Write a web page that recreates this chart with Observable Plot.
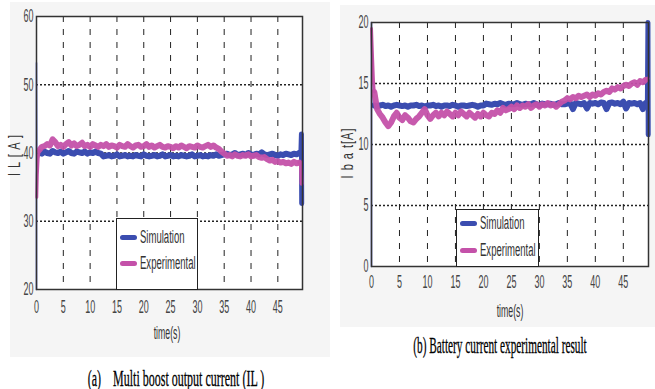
<!DOCTYPE html>
<html>
<head>
<meta charset="utf-8">
<script src="https://cdn.jsdelivr.net/npm/d3@7"></script>
<script src="https://cdn.jsdelivr.net/npm/@observablehq/plot@0.6"></script>
<style>
  html, body { margin: 0; padding: 0; background: #fff; }
  #wrap { position: relative; width: 655px; height: 389px; overflow: hidden; }
  .abs { position: absolute; }
  .narrow { font-family: "Liberation Sans", Arial, sans-serif; color: #222; }
  .legend { position: absolute; background: #fff; border: 1.5px solid #222; box-sizing: border-box; }
  .li { position: absolute; display: flex; align-items: center; white-space: nowrap; }
  .li .tx { display: inline-block; font-size: 18px; transform: scaleX(0.53); transform-origin: left center; color: #333; }
  .sw { display: inline-block; width: 17px; height: 5px; border-radius: 3px; margin-right: 3px; }
  .cap { position: absolute; font-family: "Liberation Serif", "DejaVu Serif", serif; font-size: 24px; color: #000; white-space: nowrap; -webkit-text-stroke: 0.3px #000; }
  .xl { position: absolute; font-size: 19px; transform: translate(-50%, -50%) scaleX(0.46); white-space: nowrap; color: #333; }
  .yl { position: absolute; font-size: 17px; transform: translate(-50%, -50%) rotate(-90deg) scaleX(0.65); white-space: nowrap; letter-spacing: 1.5px; color: #333; }
</style>
</head>
<body>
<div id="wrap">
  <div id="pa" class="abs" style="left:10px;top:2px"></div>
  <div id="pb" class="abs" style="left:340px;top:5px"></div>

  <div class="legend narrow" style="left:116px;top:218px;width:82px;height:72px">
    <div class="li" style="left:3px;top:8px"><span class="sw" style="background:#3b4db0"></span><span class="tx">Simulation</span></div>
    <div class="li" style="left:3px;top:34px"><span class="sw" style="background:#c451a9"></span><span class="tx">Experimental</span></div>
  </div>
  <div class="legend narrow" style="left:456px;top:209px;width:83px;height:58px">
    <div class="li" style="left:3px;top:3px"><span class="sw" style="background:#3b4db0"></span><span class="tx">Simulation</span></div>
    <div class="li" style="left:3px;top:30px"><span class="sw" style="background:#c451a9"></span><span class="tx">Experimental</span></div>
  </div>

  <div class="xl narrow" style="left:167px;top:333px">time(s)</div>
  <div class="xl narrow" style="left:510px;top:311px">time(s)</div>
  <div class="yl narrow" style="left:15px;top:155px">I L [ A ]</div>
  <div class="yl narrow" style="left:348px;top:153px">I b a t[A]</div>

  <div class="cap" style="left:176px;top:378px;transform:translate(-50%,-50%) scaleX(0.5)">(a)&nbsp;&nbsp;&nbsp; Multi boost output current (IL )</div>
  <div class="cap" style="left:500px;top:345px;transform:translate(-50%,-50%) scaleX(0.47)">(b) Battery current experimental result</div>
</div>
<script>
// ---- tick labels / grid ----
const xTicks = [0, 5, 10, 15, 20, 25, 30, 35, 40, 45];
const xGrid = [5, 10, 15, 20, 25, 30, 35, 40, 45];
const yTicksA = [20, 30, 40, 50, 60];
const yGridA = [30, 40, 50];
const yTicksB = [0, 5, 10, 15, 20];
const yGridB = [5, 10, 15];

// ---- panel (a): values at t = 0.5, 1.0, ... 49.0 s ----
const simA = [
  40.1, 39.9, 40.2, 40.0, 39.9, 40.3, 40.1, 40.0, 40.2, 39.9,
  40.1, 40.3, 40.0, 39.9, 40.2, 40.1, 40.0, 40.2, 39.9, 40.1,
  40.0, 40.2, 40.0, 39.9,
  39.5, 39.6, 39.7, 39.5, 39.6, 39.8, 39.5, 39.6, 39.7, 39.5,
  39.6, 39.5, 39.7, 39.6, 39.5, 39.8, 39.6, 39.5, 39.6, 39.7,
  39.5, 39.6, 39.8, 39.5, 39.6, 39.7, 39.5, 39.6, 39.5, 39.7,
  39.6, 39.5, 39.6, 39.8, 39.5, 39.6, 39.7, 39.5, 39.6, 39.5,
  39.7, 39.6, 39.8, 39.6, 39.7, 39.8,
  39.9, 39.7, 39.8, 40.0, 39.7, 39.8, 39.9, 39.7, 40.0, 39.8,
  39.7, 39.9, 39.8, 40.1, 39.8, 39.7, 39.8, 39.9, 39.7, 39.6,
  39.8, 39.7, 39.9, 39.8, 39.7, 39.9, 39.8, 40.0
];
const expA = [
  40.4, 40.9, 41.0, 41.3, 41.1, 42.0, 41.6, 41.0, 41.2, 40.9,
  41.3, 41.6, 41.1, 41.4, 41.0, 41.2, 41.5, 41.0, 41.2, 40.9,
  41.3, 41.1, 40.9, 41.2, 41.0, 41.3, 40.9, 41.1, 41.0, 40.8,
  41.2, 41.0, 40.9, 41.3, 41.0, 40.8, 41.1, 41.2, 40.9, 41.0,
  41.3, 40.9, 41.1, 40.8, 41.0, 41.2, 40.9, 40.8, 41.0, 40.9,
  40.7, 41.0, 40.8, 41.1, 40.9, 40.7, 41.0, 40.9, 40.8, 41.1,
  40.9, 40.8, 41.0, 41.2, 40.9, 41.1, 40.8, 40.6, 40.2, 39.9,
  39.6, 39.7, 39.5, 39.8, 39.6, 39.5, 39.7, 39.6, 39.8, 39.5,
  39.6, 39.7, 39.4, 39.3, 39.4, 39.1, 38.9, 39.0, 38.7, 38.8,
  38.6, 38.7, 38.5, 38.6, 38.4, 38.7, 38.5, 38.6
];
// start-up transient and end spike (time, value)
const simStartA_t = [0, 0, 0.05];
const simStartA_v = [20, 53.2, 40.0];
const expStartA_t = [0.05, 0.15, 0.3, 0.5];
const expStartA_v = [33.5, 36.8, 39.2, 40.4];
const simEndA_t = [49.0, 49.3, 49.4, 49.45];
const simEndA_v = [40.0, 40.0, 42.8, 32.6];
const expEndA_t = [49.0, 49.3, 49.42];
const expEndA_v = [38.6, 38.5, 35.5];

// ---- panel (b): values at t = 0.5, 1.0, ... 49.0 s ----
const simB = [
  13.2, 13.1, 13.2, 13.25, 13.15, 13.2, 13.1, 13.2, 13.25, 13.2,
  13.15, 13.2, 13.1, 13.2, 13.2, 13.25, 13.15, 13.2, 13.1, 13.2,
  13.2, 13.25, 13.15, 13.2, 13.1, 13.2, 13.2, 13.15, 13.25, 13.2,
  13.1, 13.2, 13.2, 13.15, 13.2, 13.25, 13.2, 13.1, 13.2, 13.2,
  13.35, 13.3, 13.25, 13.35, 13.3, 13.4, 13.3, 13.25, 13.35, 13.3,
  13.3, 13.4, 13.3, 13.25, 13.35, 13.3, 13.3, 13.4, 13.3, 13.2,
  13.35, 13.3, 13.3, 13.35, 13.25, 13.3, 13.4, 13.3, 13.3, 13.35,
  13.4, 12.9, 13.4, 13.35, 13.3, 13.4, 12.95, 13.4, 13.35, 13.4,
  13.3, 13.45, 13.4, 12.9, 13.4, 13.45, 13.35, 13.4, 13.3, 13.5,
  12.95, 13.4, 13.35, 13.4, 13.3, 13.4, 12.9, 13.4
];
const expB = [
  14.3, 12.9, 12.5, 12.2, 11.8, 11.5, 11.8, 12.3, 12.6, 12.2,
  12.0, 12.4, 12.2, 11.9, 11.8, 12.1, 12.3, 12.6, 12.9, 12.4,
  12.1, 12.4, 12.6, 12.3, 12.6, 12.4, 12.7, 12.5, 12.3, 12.6,
  12.4, 12.7, 12.5, 12.3, 12.6, 12.4, 12.2, 12.5, 12.3, 12.6,
  12.4, 12.3, 12.6, 12.5, 12.8, 12.6, 13.0, 12.8, 12.9, 13.1,
  12.9, 13.2, 13.0, 13.2, 13.1, 13.3, 13.0, 13.2, 13.3, 13.1,
  13.3, 13.2, 13.4, 13.2, 13.3, 13.1, 13.3, 13.5, 13.6, 13.8,
  13.7, 13.9, 13.8, 14.0, 13.9, 14.0, 14.1, 13.9, 14.1, 14.0,
  14.2, 14.1, 14.3, 14.4, 14.3, 14.6, 14.5, 14.7, 14.6, 14.8,
  14.9, 14.8, 15.0, 15.1, 14.9, 15.2, 15.1, 15.3
];
const simStartB_t = [0, 0, 0.05];
const simStartB_v = [0, 20, 13.2];
const expStartB_t = [0, 0.2, 0.35, 0.5];
const expStartB_v = [19.5, 17.0, 15.2, 14.3];
const simEndB_t = [49.0, 49.3, 49.4, 49.45];
const simEndB_v = [13.4, 13.3, 20.0, 10.8];
const expEndB_t = [49.0, 49.35];
const expEndB_v = [15.3, 15.4];

const BLUE = "#3b4db0", BLUE_THIN = "#6272d6", PINK = "#c451a9";

const zip = (ts, vs) => ts.map((t, i) => ({t, v: vs[i]}));
const grid = vs => vs.map((v, i) => ({t: 0.5 * (i + 1), v}));

const font = '"Liberation Sans", Arial, sans-serif';

function panel({width, height, mt, mr, mb, ml, xmax, ydom, yTicks, yGrid, sim, exp, simStart, expStart, simEnd, expEnd, pad}) {
  const simData = grid(sim);
  const expData = grid(exp);
  return Plot.plot({
    width, height,
    marginTop: mt, marginRight: mr, marginBottom: mb, marginLeft: ml,
    style: {background: "#f5f5f5", fontFamily: font, fontSize: "18px", color: "#444"},
    x: {domain: [0, xmax], ticks: xTicks, tickSize: 0, tickPadding: pad, label: null},
    y: {domain: ydom, ticks: yTicks, tickSize: 0, tickPadding: 3, label: null},
    marks: [
      Plot.frame({fill: "#fff"}),
      Plot.ruleX(xGrid, {stroke: "#222", strokeDasharray: "6,7", strokeWidth: 1}),
      Plot.ruleY(yGrid, {stroke: "#222", strokeDasharray: "2,2", strokeWidth: 1.3}),
      Plot.line(simStart, {x: "t", y: "v", stroke: BLUE_THIN, strokeWidth: 1.6}),
      Plot.line(simData, {x: "t", y: "v", stroke: BLUE, strokeWidth: 6, strokeLinejoin: "round"}),
      Plot.line(simEnd, {x: "t", y: "v", stroke: BLUE, strokeWidth: 5}),
      Plot.line(expStart, {x: "t", y: "v", stroke: PINK, strokeWidth: 3}),
      Plot.line(expData, {x: "t", y: "v", stroke: PINK, strokeWidth: 6, strokeLinejoin: "round", strokeOpacity: 0.95}),
      Plot.line(expEnd, {x: "t", y: "v", stroke: PINK, strokeWidth: 4}),
      Plot.frame({stroke: "#333", strokeWidth: 1.5})
    ]
  });
}

function condense(svg, k) {
  svg.querySelectorAll('g[aria-label="x-axis tick label"] text, g[aria-label="y-axis tick label"] text').forEach(t => {
    const w = t.getComputedTextLength();
    t.setAttribute("textLength", (w * k).toFixed(1));
    t.setAttribute("lengthAdjust", "spacingAndGlyphs");
  });
}

const pa = panel({
  width: 320, height: 355, mt: 14, mr: 28, mb: 68, ml: 26,
  xmax: 49.6, ydom: [20, 60], yTicks: yTicksA, yGrid: yGridA,
  sim: simA, exp: expA,
  simStart: zip(simStartA_t, simStartA_v), expStart: zip(expStartA_t, expStartA_v),
  simEnd: zip(simEndA_t, simEndA_v), expEnd: zip(expEndA_t, expEndA_v), pad: 11
});
document.getElementById("pa").appendChild(pa);
condense(pa, 0.5);

const pb = panel({
  width: 315, height: 322, mt: 17, mr: 7, mb: 61, ml: 31,
  xmax: 49.5, ydom: [0, 20], yTicks: yTicksB, yGrid: yGridB,
  sim: simB, exp: expB,
  simStart: zip(simStartB_t, simStartB_v), expStart: zip(expStartB_t, expStartB_v),
  simEnd: zip(simEndB_t, simEndB_v), expEnd: zip(expEndB_t, expEndB_v), pad: 9
});
document.getElementById("pb").appendChild(pb);
condense(pb, 0.5);
</script>
</body>
</html>
